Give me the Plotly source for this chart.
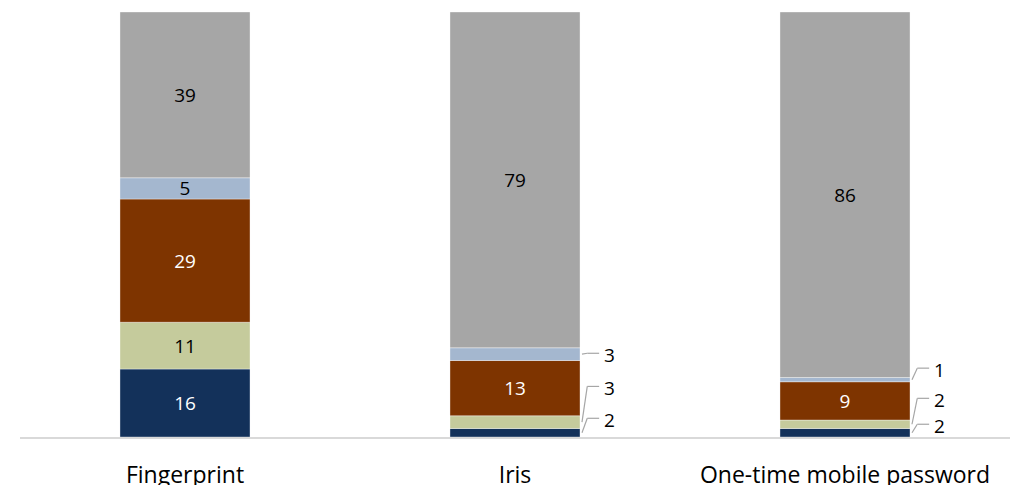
import plotly.graph_objects as go

categories = ["Fingerprint", "Iris", "One-time mobile password"]
navy_vals = [16, 2, 2]
beige_vals = [11, 3, 2]
brown_vals = [29, 13, 9]
blue_vals = [5, 3, 1]
gray_vals = [39, 79, 86]

series = [
    (navy_vals, "#13315A", "white"),
    (beige_vals, "#C5CB9C", "black"),
    (brown_vals, "#7E3400", "white"),
    (blue_vals, "#A4B7CF", "black"),
    (gray_vals, "#A6A6A6", "black"),
]

FONT = "Open Sans"
BAR_W = 0.394

# label heights (data units) for outside labels: {category index: {series index: y}}
outside_label_y = {
    1: {0: 4.0, 1: 11.5, 3: 19.3},
    2: {0: 2.6, 1: 8.7, 3: 15.8},
}

x = list(range(len(categories)))
fig = go.Figure()
base = [0.0] * len(categories)
mids = []
for si, (vals, color, tcolor) in enumerate(series):
    texts = []
    for ci, v in enumerate(vals):
        inside = not (ci in outside_label_y and si in outside_label_y[ci])
        texts.append(str(v) if inside else "")
    fig.add_trace(go.Bar(
        x=x, y=vals, base=list(base), width=BAR_W,
        marker=dict(color=color, line=dict(color="rgba(255,255,255,0.6)", width=0.6)),
        text=texts, textposition="inside", insidetextanchor="middle", textangle=0,
        textfont=dict(family=FONT, size=19, color=tcolor),
        constraintext="none", showlegend=False, hoverinfo="skip",
    ))
    mids.append([b + v / 2 for b, v in zip(base, vals)])
    base = [b + v for b, v in zip(base, vals)]

# leader lines and outside labels
for ci, entries in outside_label_y.items():
    edge = ci + BAR_W / 2
    for si, ly in entries.items():
        vals = series[si][0]
        y0 = mids[si][ci]
        fig.add_shape(type="line", x0=edge + 0.006, y0=y0, x1=edge + 0.022, y1=ly + 0.4,
                      line=dict(color="#A6A6A6", width=1.2))
        fig.add_shape(type="line", x0=edge + 0.022, y0=ly + 0.4, x1=edge + 0.058, y1=ly + 0.4,
                      line=dict(color="#A6A6A6", width=1.2))
        fig.add_annotation(x=edge + 0.066, y=ly, text=str(vals[ci]), showarrow=False,
                           xanchor="left", yanchor="middle",
                           font=dict(family=FONT, size=19, color="black"))

fig.update_layout(
    width=1012, height=485,
    margin=dict(l=20, r=2, t=12, b=48, autoexpand=False),
    barmode="overlay",
    plot_bgcolor="white", paper_bgcolor="white",
    xaxis=dict(range=[-0.5, 2.5], tickmode="array", tickvals=x, ticktext=categories,
               showline=True, linecolor="#D9D9D9", linewidth=1.5, showgrid=False,
               ticks="", ticklabelstandoff=17, automargin=False,
               tickfont=dict(family=FONT, size=23, color="black")),
    yaxis=dict(range=[0, 100], visible=False, showgrid=False, automargin=False),
)

fig.write_html("out.html")
